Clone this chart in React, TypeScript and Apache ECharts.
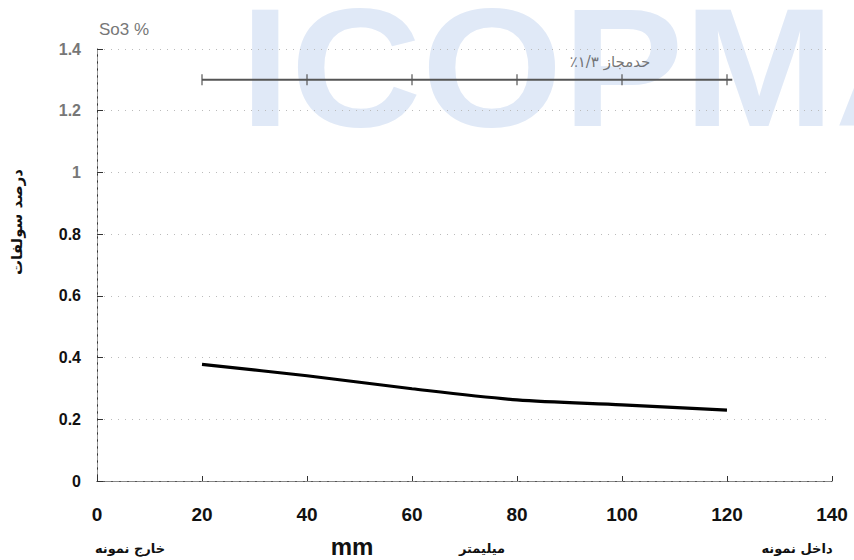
import React, { useEffect, useRef } from "react";
import * as echarts from "echarts";

const xTicks = [0, 20, 40, 60, 80, 100, 120, 140];
const depthMm = [20, 40, 60, 80, 100, 120];
const so3Percent = [0.378, 0.341, 0.299, 0.263, 0.247, 0.23];
const limitValue = 1.3;
const limitStartEnd = [20, 121];
const limitTickX = [20, 40, 60, 80, 100, 120];
const limitLabel = "٪۱/۳ حدمجاز";
const titleText = "So3 %";
const yName = "درصد سولفات";
const bottomTexts = ["خارج نمونه", "mm", "میلیمتر", "داخل نمونه"];

export default function App() {
  const ref = useRef<HTMLDivElement>(null);
  useEffect(() => {
    const chart = echarts.init(ref.current!, null, { renderer: "svg" });
    const latin = "'Liberation Sans', Arial, sans-serif";
    const narrow = "'Liberation Sans Narrow', 'Liberation Sans', Arial, sans-serif";
    const arabic = "'DejaVu Sans', 'Noto Sans', sans-serif";
    chart.setOption({
      animation: false,
      backgroundColor: "#ffffff",
      title: {
        text: titleText,
        left: 94,
        top: 16,
        textStyle: { fontFamily: latin, fontSize: 17, fontWeight: "normal", color: "#777" },
      },
      grid: { left: 97, right: 22, top: 49, bottom: 79 },
      xAxis: [
        {
          type: "value",
          min: 0,
          max: 140,
          interval: 20,
          axisLine: { show: true, onZero: false, lineStyle: { color: "#333", width: 1 } },
          axisTick: { show: true, inside: true, length: 5, lineStyle: { color: "#333" } },
          axisLabel: {
            margin: 24,
            fontFamily: narrow,
            fontSize: 19,
            fontWeight: "bold",
            color: "#111",
            formatter: (v: number) => (xTicks.includes(v) ? String(v) : ""),
          },
          splitLine: { show: false },
        },
        {
          type: "value",
          position: "top",
          min: 0,
          max: 140,
          axisLine: { show: true, lineStyle: { color: "#888", width: 1, type: [6, 2] } },
          axisTick: { show: false },
          axisLabel: { show: false },
          splitLine: { show: false },
        },
      ],
      yAxis: [
        {
          type: "value",
          min: 0,
          max: 1.4,
          interval: 0.2,
          axisLine: { show: true, onZero: false, lineStyle: { color: "#333", width: 1 } },
          axisTick: { show: true, inside: true, length: 6, lineStyle: { color: "#333" } },
          axisLabel: {
            margin: 16,
            fontFamily: latin,
            fontSize: 16,
            fontWeight: "bold",
            color: (v: any) => (Number(v) >= 0.99 ? "#777" : "#111"),
          },
          splitLine: { show: true, lineStyle: { color: "#bbb", width: 1, type: [1, 6] } },
        },
        {
          type: "value",
          position: "right",
          min: 0,
          max: 1.4,
          axisLine: { show: true, lineStyle: { color: "#999", width: 1, type: [4, 3] } },
          axisTick: { show: false },
          axisLabel: { show: false },
          splitLine: { show: false },
        },
      ],
      graphic: [
        {
          type: "text",
          z: -10,
          silent: true,
          x: 240,
          y: 68,
          scaleX: 1.08,
          style: {
            text: "ICOPMA",
            font: "bold 168px 'Liberation Sans', Arial, sans-serif",
            fill: "#e0e9f7",
            verticalAlign: "middle",
          },
        },
        {
          type: "text",
          x: 17,
          y: 222,
          rotation: Math.PI / 2,
          style: {
            text: yName,
            font: "bold 15px " + arabic,
            fill: "#111",
            align: "center",
            verticalAlign: "middle",
          },
        },
        {
          type: "text",
          x: 130,
          y: 548,
          style: { text: bottomTexts[0], font: "bold 13px " + arabic, fill: "#111", align: "center", verticalAlign: "middle" },
        },
        {
          type: "text",
          x: 352,
          y: 546,
          style: { text: bottomTexts[1], font: "bold 24px " + latin, fill: "#111", align: "center", verticalAlign: "middle" },
        },
        {
          type: "text",
          x: 482,
          y: 548,
          style: { text: bottomTexts[2], font: "bold 13px " + arabic, fill: "#111", align: "center", verticalAlign: "middle" },
        },
        {
          type: "text",
          x: 797,
          y: 548,
          style: { text: bottomTexts[3], font: "bold 13px " + arabic, fill: "#111", align: "center", verticalAlign: "middle" },
        },
      ],
      series: [
        {
          type: "line",
          data: limitStartEnd.map((x) => [x, limitValue]),
          symbol: "none",
          lineStyle: { color: "#555", width: 2 },
          z: 3,
        },
        {
          type: "scatter",
          data: limitTickX.map((x) => [x, limitValue]),
          symbol: "rect",
          symbolSize: [1.5, 11],
          itemStyle: { color: "#555" },
          z: 3,
          label: {
            show: true,
            position: "top",
            distance: 2,
            formatter: (p: any) => (p.dataIndex === 4 ? limitLabel : ""),
            offset: [-12, -3],
            fontFamily: arabic,
            fontSize: 15,
            color: "#555",
          },
        },
        {
          type: "line",
          data: depthMm.map((x, i) => [x, so3Percent[i]]),
          symbol: "none",
          smooth: 0.3,
          lineStyle: { color: "#000", width: 3.2 },
          z: 4,
        },
      ],
    });
    return () => chart.dispose();
  }, []);
  return (
    <div
      ref={ref}
      style={{ position: "absolute", left: 0, top: 0, width: 854, height: 560, overflow: "hidden" }}
    />
  );
}
